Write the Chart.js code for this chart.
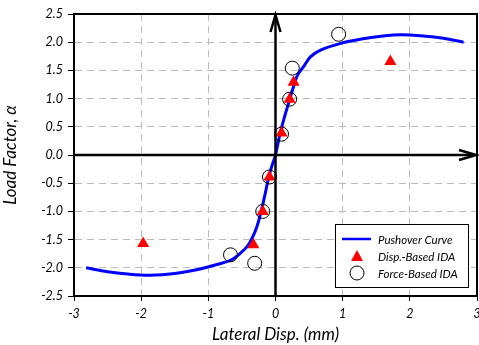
<!DOCTYPE html>
<html><head><meta charset="utf-8">
<script src="https://cdn.jsdelivr.net/npm/chart.js@4.4.0/dist/chart.umd.min.js"></script>
<style>html,body{margin:0;padding:0;background:#fff}#wrap{width:479px;height:345px}</style>
</head><body><div id="wrap"><canvas id="c" width="479" height="345"></canvas></div>
<script>
const xTicks = [-3,-2,-1,0,1,2,3];
const yTicks = [-2.5,-2.0,-1.5,-1.0,-0.5,0.0,0.5,1.0,1.5,2.0,2.5];
const pushX = [-2.82,-2.5,-2.2,-1.87,-1.5,-1.12,-0.9,-0.67,-0.55,-0.42,-0.35,-0.28,-0.22,-0.16,-0.1,-0.05,0,0.07,0.14,0.21,0.27,0.33,0.42,0.52,0.67,0.97,1.3,1.6,1.87,2.2,2.5,2.8];
const pushY = [-2.0,-2.07,-2.11,-2.13,-2.1,-2.02,-1.95,-1.87,-1.77,-1.62,-1.48,-1.28,-1.03,-0.72,-0.39,-0.18,0,0.39,0.7,0.98,1.22,1.42,1.57,1.74,1.86,1.98,2.06,2.11,2.13,2.11,2.07,2.0];
const dispX = [-1.97,-0.33,-0.19,-0.09,0.09,0.21,0.27,1.71];
const dispY = [-1.57,-1.59,-1.0,-0.39,0.39,0.99,1.29,1.66];
const forceX = [-0.67,-0.31,-0.19,-0.09,0.09,0.21,0.25,0.94];
const forceY = [-1.77,-1.92,-1.0,-0.39,0.37,0.99,1.54,2.14];
const seriesNames = ["Pushover Curve","Disp.-Based IDA","Force-Based IDA"];

const zip = (a,b)=>a.map((v,i)=>({x:v,y:b[i]}));
const FONT = "Lato";

const framePlugin = {
  id:'frame',
  afterDatasetsDraw(chart){
    const {ctx, chartArea:a, scales:{x,y}} = chart;
    ctx.save();
    ctx.strokeStyle='#000'; ctx.lineWidth=2;
    ctx.strokeRect(a.left, a.top, a.right-a.left, a.bottom-a.top);
    const x0 = x.getPixelForValue(0), y0 = y.getPixelForValue(0);
    ctx.lineWidth=2.5;
    ctx.beginPath(); ctx.moveTo(x0,a.bottom); ctx.lineTo(x0,a.top+2); ctx.stroke();
    ctx.beginPath(); ctx.moveTo(a.left,y0); ctx.lineTo(a.right-2,y0); ctx.stroke();
    ctx.lineJoin='miter';
    ctx.beginPath(); ctx.moveTo(x0-5,a.top+18); ctx.lineTo(x0,a.top+1); ctx.lineTo(x0+5,a.top+18); ctx.stroke();
    ctx.beginPath(); ctx.moveTo(a.right-18,y0-5); ctx.lineTo(a.right-1,y0); ctx.lineTo(a.right-18,y0+5); ctx.stroke();
    ctx.restore();
  },
  afterDraw(chart){
    const {ctx} = chart;
    const ds = chart.data.datasets;
    ctx.save();
    const bx=335, by=224, bw=133, bh=63;
    ctx.fillStyle='#fff'; ctx.fillRect(bx,by,bw,bh);
    ctx.strokeStyle='#000'; ctx.lineWidth=1; ctx.strokeRect(bx+0.5,by+0.5,bw,bh);
    ctx.font = "italic 11.5px "+FONT; ctx.fillStyle='#000'; ctx.textBaseline='middle';
    const rows=[239,256,273];
    ctx.strokeStyle='#0000ff'; ctx.lineWidth=2.5;
    ctx.beginPath(); ctx.moveTo(342,rows[0]); ctx.lineTo(371,rows[0]); ctx.stroke();
    ctx.fillStyle='#ff0000';
    ctx.beginPath(); ctx.moveTo(357,rows[1]-6); ctx.lineTo(363,rows[1]+5); ctx.lineTo(351,rows[1]+5); ctx.closePath(); ctx.fill();
    ctx.strokeStyle='#000'; ctx.lineWidth=1;
    ctx.beginPath(); ctx.arc(357,rows[2],7,0,Math.PI*2); ctx.stroke();
    ctx.fillStyle='#000';
    ds.forEach((d,i)=>ctx.fillText(d.label,378,rows[i]+1));
    ctx.restore();
  }
};

new Chart(document.getElementById('c'),{
  type:'scatter',
  data:{datasets:[
    {label:seriesNames[0], data:zip(pushX,pushY), showLine:true, borderColor:'#0000ff', borderWidth:3, pointRadius:0, tension:0.35, order:3},
    {label:seriesNames[1], data:zip(dispX,dispY), pointStyle:'triangle', pointRadius:7, backgroundColor:'#ff0000', borderColor:'#ff0000', borderWidth:0, order:1},
    {label:seriesNames[2], data:zip(forceX,forceY), pointStyle:'circle', pointRadius:7, backgroundColor:'rgba(0,0,0,0)', borderColor:'#000', borderWidth:1, order:2}
  ]},
  options:{
    responsive:false, animation:false, devicePixelRatio:1,
    layout:{autoPadding:false, padding:{top:14,right:2,left:0,bottom:0}},
    plugins:{legend:{display:false}, tooltip:{enabled:false}},
    scales:{
      x:{type:'linear', min:-3, max:3,
        afterBuildTicks(s){ s.ticks = xTicks.map(v=>({value:v})); },
        afterFit(s){ s.height = 49; s.paddingRight = 0; s.paddingLeft = 0; },
        ticks:{font:{family:FONT, style:'italic', size:12.5}, color:'#000', padding:5,
          callback:v=>String(v), maxRotation:0},
        grid:{color:'#bbb', lineWidth:1, drawTicks:true, tickLength:5, tickColor:'#000', tickBorderDash:[], borderDash:[7,5]},
        border:{display:true, color:'#000', width:2, dash:[7,5]},
        title:{display:true, text:'Lateral Disp. (mm)', font:{family:FONT, style:'italic', size:17}, color:'#000', padding:{top:0,bottom:0}}
      },
      y:{type:'linear', min:-2.5, max:2.5,
        afterBuildTicks(s){ s.ticks = yTicks.map(v=>({value:v})); },
        afterFit(s){ s.width = 74; s.paddingTop = 0; s.paddingBottom = 0; },
        ticks:{font:{family:FONT, style:'italic', size:12.5}, color:'#000', padding:5,
          callback:v=>Number(v).toFixed(1)},
        grid:{color:'#bbb', lineWidth:1, drawTicks:true, tickLength:6, tickColor:'#000', tickBorderDash:[], borderDash:[7,5]},
        border:{display:true, color:'#000', width:2, dash:[7,5]},
        title:{display:true, text:'Load Factor, α', font:{family:FONT, style:'italic', size:17}, color:'#000', padding:{top:0,bottom:6}}
      }
    }
  },
  plugins:[framePlugin]
});
</script></body></html>
